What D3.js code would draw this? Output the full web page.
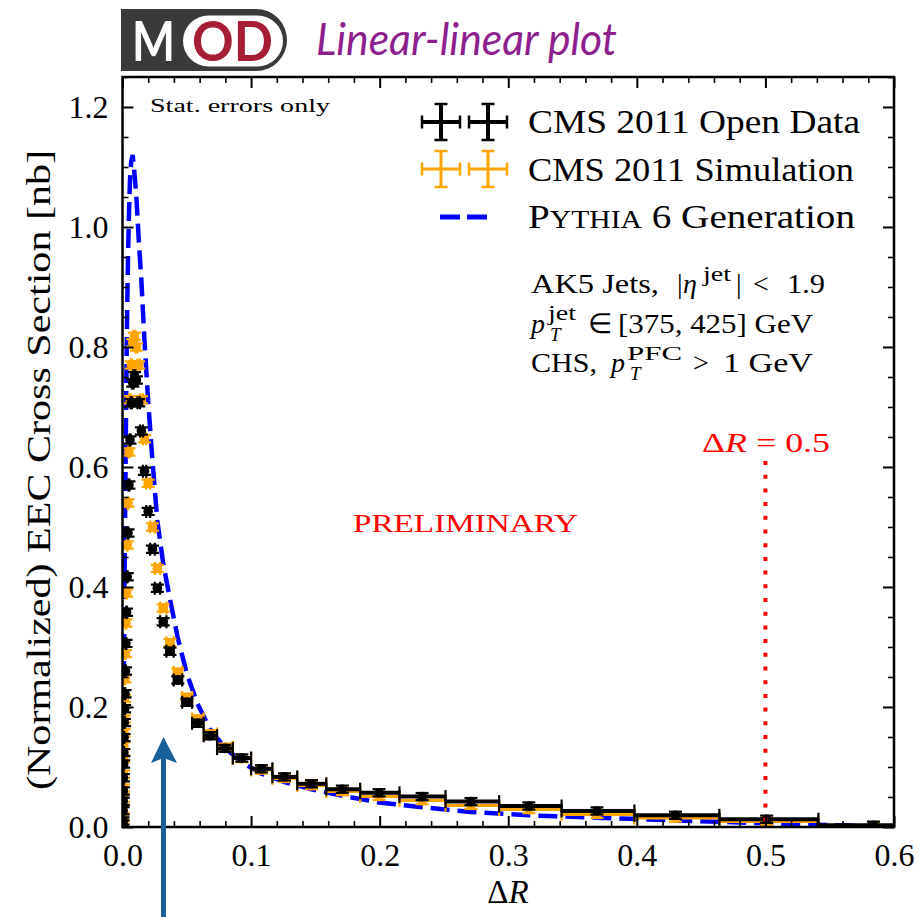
<!DOCTYPE html>
<html>
<head>
<meta charset="utf-8">
<script src="https://cdn.jsdelivr.net/npm/d3@7"></script>
<style>
	body { margin: 0; background: #fff; }
	svg { display: block; }
</style>
</head>
<body>
<svg id="chart" width="919" height="917" font-family="Liberation Serif, Times New Roman, serif"></svg>
<script>

// log bins in Delta R, 15 per decade
var binEdges = [0.000341, 0.000398, 0.000464, 0.000541, 0.000631, 0.000736, 0.000858, 0.001, 0.001166, 0.001359,
	0.001585, 0.001848, 0.002154, 0.002512, 0.002929, 0.003415, 0.003981, 0.004642, 0.005412, 0.00631,
	0.007356, 0.008577, 0.01, 0.01166, 0.01359, 0.01585, 0.01848, 0.02154, 0.02512, 0.02929,
	0.03415, 0.03981, 0.04642, 0.05412, 0.0631, 0.07356, 0.08577, 0.1, 0.1166, 0.1359,
	0.1585, 0.1848, 0.2154, 0.2512, 0.2929, 0.3415, 0.3981, 0.4642, 0.5412, 0.631]

var binCenters = [0.000369, 0.00043, 0.000501, 0.000584, 0.000681, 0.000796, 0.000928, 0.00108, 0.00126, 0.00147,
	0.00171, 0.002, 0.00233, 0.00271, 0.00316, 0.00369, 0.0043, 0.00501, 0.00584, 0.00681,
	0.00796, 0.00928, 0.0108, 0.0126, 0.0147, 0.0171, 0.01995, 0.0233, 0.0271, 0.0316,
	0.0369, 0.043, 0.0501, 0.0584, 0.0681, 0.0796, 0.0928, 0.108, 0.126, 0.147,
	0.171, 0.1995, 0.233, 0.271, 0.316, 0.369, 0.43, 0.501, 0.584]

var openData = [0.005, 0.01, 0.027, 0.043, 0.06, 0.082, 0.105, 0.124, 0.149, 0.174,
	0.197, 0.222, 0.26, 0.306, 0.358, 0.417, 0.49, 0.57, 0.645, 0.707,
	0.74, 0.752, 0.745, 0.707, 0.66, 0.593, 0.526, 0.463, 0.398, 0.342,
	0.293, 0.245, 0.208, 0.173, 0.152, 0.131, 0.115, 0.097, 0.0835, 0.072,
	0.063, 0.057, 0.0507, 0.0423, 0.035, 0.0267, 0.0195, 0.013, 0.003]

var simData = [0.006, 0.015, 0.03, 0.048, 0.065, 0.088, 0.114, 0.135, 0.157, 0.18,
	0.214, 0.247, 0.289, 0.34, 0.39, 0.47, 0.54, 0.625, 0.712, 0.77,
	0.807, 0.818, 0.8, 0.77, 0.712, 0.647, 0.573, 0.5, 0.431, 0.365,
	0.307, 0.258, 0.216, 0.18, 0.155, 0.133, 0.114, 0.095, 0.081, 0.069,
	0.059, 0.051, 0.044, 0.036, 0.029, 0.021, 0.015, 0.009, 0.002]

var pythiaGen = [0.02, 0.04, 0.07, 0.1, 0.14, 0.18, 0.22, 0.27, 0.32, 0.38,
	0.44, 0.51, 0.59, 0.68, 0.78, 0.87, 0.95, 1.02, 1.08, 1.11,
	1.12, 1.09, 1.05, 0.98, 0.91, 0.81, 0.71, 0.61, 0.51, 0.44,
	0.38, 0.315, 0.255, 0.205, 0.163, 0.132, 0.108, 0.089, 0.075, 0.063,
	0.052, 0.041, 0.033, 0.025, 0.0195, 0.0155, 0.011, 0.006, 0.001]

var statErr = 0.006
var xTicks = [0, 0.1, 0.2, 0.3, 0.4, 0.5, 0.6]
var yTicks = [0, 0.2, 0.4, 0.6, 0.8, 1.0, 1.2]
var refR = 0.5
var refTop = 0.61

var svg = d3.select("#chart")
var x = d3.scaleLinear().domain([0, 0.6]).range([122.5, 894])
var y = d3.scaleLinear().domain([0, 1.25]).range([827, 77])

var xMinor = d3.range(0, 0.6001, 0.02).filter(function(v){ return Math.abs(v*10 - Math.round(v*10)) > 1e-6 })
var yMinor = d3.range(0, 1.2501, 0.05).filter(function(v){ return Math.abs(v*5 - Math.round(v*5)) > 1e-6 })

svg.append("clipPath").attr("id", "plotclip")
	.append("rect").attr("x", x(0)).attr("y", y(1.25)).attr("width", x(0.6) - x(0)).attr("height", y(0) - y(1.25))

var plot = svg.append("g").attr("clip-path", "url(#plotclip)")

// pythia dashed curve
plot.append("path")
	.datum(binCenters.map(function(c, i){ return [c, pythiaGen[i]] }))
	.attr("fill", "none")
	.attr("stroke", "#0000ff")
	.attr("stroke-width", 4.5)
	.attr("stroke-dasharray", "19,8")
	.attr("d", d3.line().x(function(d){ return x(d[0]) }).y(function(d){ return y(d[1]) }))

function errorbars(vals, color, lw) {
	var pts = binCenters.map(function(c, i){
		return {c: c, lo: binEdges[i], hi: binEdges[i+1], v: vals[i]}
	})
	var g = plot.append("g").attr("stroke", color).attr("fill", color)
	var pt = g.selectAll("g").data(pts).enter().append("g")

	pt.append("line")
		.attr("x1", function(d){ return x(d.lo) }).attr("x2", function(d){ return x(d.hi) })
		.attr("y1", function(d){ return y(d.v) }).attr("y2", function(d){ return y(d.v) })
		.attr("stroke-width", lw)
	pt.append("line")
		.attr("x1", function(d){ return x(d.c) }).attr("x2", function(d){ return x(d.c) })
		.attr("y1", function(d){ return y(d.v - statErr) }).attr("y2", function(d){ return y(d.v + statErr) })
		.attr("stroke-width", lw - 1)
	// caps
	;["lo", "hi"].forEach(function(k){
		pt.append("line")
			.attr("x1", function(d){ return x(d[k]) }).attr("x2", function(d){ return x(d[k]) })
			.attr("y1", function(d){ return y(d.v) - 6.5 }).attr("y2", function(d){ return y(d.v) + 6.5 })
			.attr("stroke-width", 2.2)
	})
	;[-1, 1].forEach(function(s){
		pt.append("line")
			.attr("x1", function(d){ return x(d.c) - 6.5 }).attr("x2", function(d){ return x(d.c) + 6.5 })
			.attr("y1", function(d){ return y(d.v + s*statErr) }).attr("y2", function(d){ return y(d.v + s*statErr) })
			.attr("stroke-width", 2.2)
	})
	pt.append("circle")
		.attr("cx", function(d){ return x(d.c) })
		.attr("cy", function(d){ return y(d.v) })
		.attr("r", 4.8)
		.attr("stroke", "none")
}

errorbars(simData, "#ffa500", 3)
errorbars(openData, "#000000", 4)

// Delta R = 0.5 marker
plot.append("line")
	.attr("x1", x(refR)).attr("x2", x(refR))
	.attr("y1", y(refTop)).attr("y2", y(0))
	.attr("stroke", "#ff0000").attr("stroke-width", 4)
	.attr("stroke-dasharray", "4,9.7")

// axes
function tickStyle(g, w) {
	g.select(".domain").remove()
	g.selectAll(".tick line").attr("stroke", "#000").attr("stroke-width", w)
}

svg.append("g").attr("transform", "translate(0," + y(0) + ")")
	.call(d3.axisBottom(x).tickValues(xTicks).tickSize(-11).tickPadding(16).tickFormat(d3.format(".1f")))
	.call(tickStyle, 2)
	.call(function(g){ g.selectAll("text").attr("font-size", 32).attr("fill", "#000") })
svg.append("g").attr("transform", "translate(0," + y(0) + ")")
	.call(d3.axisBottom(x).tickValues(xMinor).tickSize(-6).tickFormat(""))
	.call(tickStyle, 1.6)
svg.append("g").attr("transform", "translate(0," + y(1.25) + ")")
	.call(d3.axisTop(x).tickValues(xTicks).tickSize(-11).tickFormat(""))
	.call(tickStyle, 2)
svg.append("g").attr("transform", "translate(0," + y(1.25) + ")")
	.call(d3.axisTop(x).tickValues(xMinor).tickSize(-6).tickFormat(""))
	.call(tickStyle, 1.6)

svg.append("g").attr("transform", "translate(" + x(0) + ",0)")
	.call(d3.axisLeft(y).tickValues(yTicks).tickSize(-11).tickPadding(14).tickFormat(d3.format(".1f")))
	.call(tickStyle, 2)
	.call(function(g){ g.selectAll("text").attr("font-size", 32).attr("fill", "#000") })
svg.append("g").attr("transform", "translate(" + x(0) + ",0)")
	.call(d3.axisLeft(y).tickValues(yMinor).tickSize(-6).tickFormat(""))
	.call(tickStyle, 1.6)
svg.append("g").attr("transform", "translate(" + x(0.6) + ",0)")
	.call(d3.axisRight(y).tickValues(yTicks).tickSize(-11).tickFormat(""))
	.call(tickStyle, 2)
svg.append("g").attr("transform", "translate(" + x(0.6) + ",0)")
	.call(d3.axisRight(y).tickValues(yMinor).tickSize(-6).tickFormat(""))
	.call(tickStyle, 1.6)

// d3 axes set a sans font on their groups; reset it
svg.selectAll("g").attr("font-family", null)

svg.append("rect")
	.attr("x", x(0)).attr("y", y(1.25))
	.attr("width", x(0.6) - x(0)).attr("height", y(0) - y(1.25))
	.attr("fill", "none").attr("stroke", "#000").attr("stroke-width", 2.5)

// axis labels
var xl = svg.append("text").attr("x", 508).attr("y", 903).attr("text-anchor", "middle").attr("font-size", 33)
xl.append("tspan").text("Δ")
xl.append("tspan").attr("font-style", "italic").text("R")

svg.append("text")
	.attr("transform", "translate(50,470) rotate(-90)")
	.attr("text-anchor", "middle")
	.attr("font-size", 33)
	.attr("textLength", 640).attr("lengthAdjust", "spacingAndGlyphs")
	.text("(Normalized) EEC Cross Section [nb]")

svg.append("text").attr("x", 150).attr("y", 112).attr("font-size", 19)
	.attr("textLength", 180).attr("lengthAdjust", "spacingAndGlyphs")
	.text("Stat. errors only")

// legend
var legend = svg.append("g")
function legendCross(cx, cy, color, lw) {
	var c = legend.append("g").attr("stroke", color)
	c.append("line").attr("x1", cx - 19).attr("x2", cx + 19).attr("y1", cy).attr("y2", cy).attr("stroke-width", lw)
	c.append("line").attr("x1", cx).attr("x2", cx).attr("y1", cy - 18).attr("y2", cy + 18).attr("stroke-width", lw)
	c.append("line").attr("x1", cx - 19).attr("x2", cx - 19).attr("y1", cy - 6.5).attr("y2", cy + 6.5).attr("stroke-width", 2.5)
	c.append("line").attr("x1", cx + 19).attr("x2", cx + 19).attr("y1", cy - 6.5).attr("y2", cy + 6.5).attr("stroke-width", 2.5)
	c.append("line").attr("x1", cx - 6.5).attr("x2", cx + 6.5).attr("y1", cy - 18).attr("y2", cy - 18).attr("stroke-width", 2.5)
	c.append("line").attr("x1", cx - 6.5).attr("x2", cx + 6.5).attr("y1", cy + 18).attr("y2", cy + 18).attr("stroke-width", 2.5)
}
legendCross(441, 122, "#000", 4)
legendCross(488, 122, "#000", 4)
legendCross(441, 169, "#ffa500", 3)
legendCross(488, 169, "#ffa500", 3)
legend.append("line").attr("x1", 440).attr("x2", 487).attr("y1", 217).attr("y2", 217)
	.attr("stroke", "#0000ff").attr("stroke-width", 5).attr("stroke-dasharray", "20,7")

legend.append("text").attr("x", 528).attr("y", 133).attr("font-size", 33)
	.attr("textLength", 332).attr("lengthAdjust", "spacingAndGlyphs").text("CMS 2011 Open Data")
legend.append("text").attr("x", 528).attr("y", 181).attr("font-size", 33)
	.attr("textLength", 326).attr("lengthAdjust", "spacingAndGlyphs").text("CMS 2011 Simulation")
var py = legend.append("text").attr("x", 528).attr("y", 228).attr("font-size", 33)
	.attr("textLength", 327).attr("lengthAdjust", "spacingAndGlyphs")
py.append("tspan").text("P")
py.append("tspan").attr("font-size", 25).text("YTHIA")
py.append("tspan").text(" 6 Generation")

// jet selection text
function t(xp, yp, s, fs, opts) {
	var e = svg.append("text").attr("x", xp).attr("y", yp).attr("font-size", fs).text(s)
	if (opts && opts.italic) e.attr("font-style", "italic")
	if (opts && opts.len) e.attr("textLength", opts.len).attr("lengthAdjust", "spacingAndGlyphs")
	if (opts && opts.color) e.attr("fill", opts.color)
	return e
}
t(531, 293, "AK5 Jets,", 28, {len: 128})
t(677, 293, "|", 28)
t(683, 293, "η", 28, {italic: true})
t(703, 281, "jet", 20, {len: 28})
t(736, 293, "|", 28)
t(753, 293, "<", 28)
t(787, 293, "1.9", 28, {len: 38})

t(531, 333, "p", 28, {italic: true})
t(548, 320, "jet", 20, {len: 28})
t(550, 341, "T", 19, {italic: true})
t(588, 333, "∈", 28)
t(618, 333, "[375, 425] GeV", 28, {len: 195})

t(531, 372, "CHS,", 28, {len: 66})
t(611, 372, "p", 28, {italic: true})
t(627, 360, "PFC", 19, {len: 55})
t(630, 380, "T", 19, {italic: true})
t(693, 372, ">", 28)
t(723, 372, "1 GeV", 28, {len: 90})

t(353, 532, "PRELIMINARY", 25, {len: 225, color: "#ff0000"})

var rl = svg.append("text").attr("x", 702).attr("y", 452)
	.attr("font-size", 28).attr("fill", "#ff0000")
	.attr("textLength", 128).attr("lengthAdjust", "spacingAndGlyphs")
rl.append("tspan").text("Δ")
rl.append("tspan").attr("font-style", "italic").text("R")
rl.append("tspan").text(" = 0.5")

// MOD logo
var logo = svg.append("g")
logo.append("path")
	.attr("d", "M121,9 H256 A31,31 0 0 1 256,71 H121 Z")
	.attr("fill", "#3a3a38")
logo.append("rect").attr("x", 183).attr("y", 15.5).attr("width", 100).attr("height", 51).attr("rx", 25.5)
	.attr("fill", "#fff")
logo.append("text").attr("x", 132).attr("y", 61).attr("font-size", 55)
	.style("font-family", "Lato, 'Open Sans', sans-serif").attr("font-weight", "bold").attr("fill", "#fff")
	.attr("textLength", 43).attr("lengthAdjust", "spacingAndGlyphs").text("M")
logo.append("text").attr("x", 192).attr("y", 61).attr("font-size", 55)
	.style("font-family", "Lato, 'Open Sans', sans-serif").attr("font-weight", "bold").attr("fill", "#a51e36")
	.attr("textLength", 81).attr("lengthAdjust", "spacingAndGlyphs").text("OD")
logo.append("text").attr("x", 316).attr("y", 55).attr("font-size", 44)
	.style("font-family", "Lato, 'Open Sans', sans-serif").attr("font-style", "italic").attr("fill", "#8e1f8e")
	.attr("textLength", 301).attr("lengthAdjust", "spacingAndGlyphs").text("Linear-linear plot")

// arrow
var arrow = svg.append("g").attr("fill", "#17609a").attr("stroke", "none")
arrow.append("rect").attr("x", 161).attr("y", 755).attr("width", 5).attr("height", 170)
arrow.append("path").attr("d", "M163.5,737 L177,763 L163.5,758 L151,763 Z")

</script>
</body>
</html>
